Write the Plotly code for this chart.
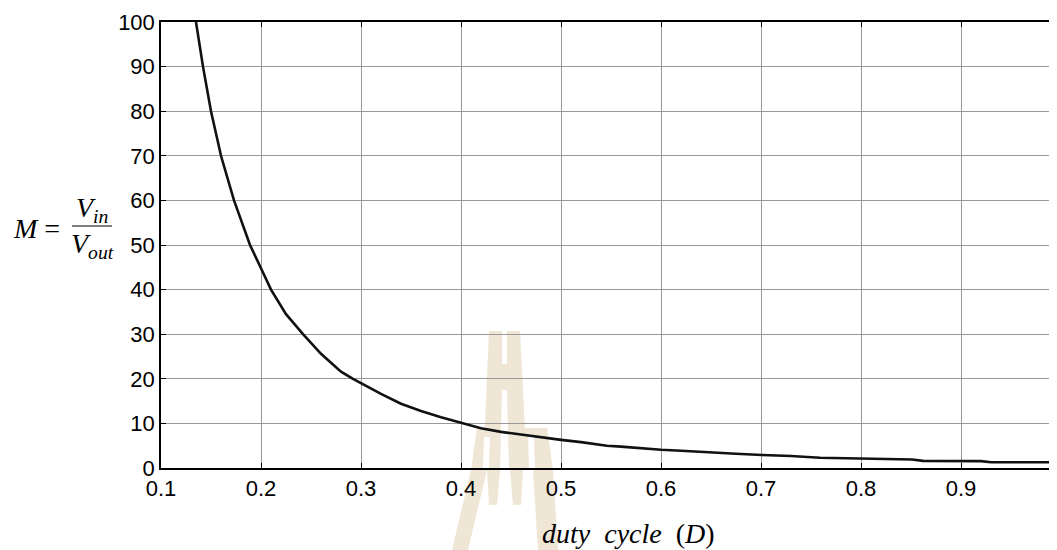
import plotly.graph_objects as go

# duty cycle D and conversion ratio M = Vin/Vout
duty = [0.135, 0.142, 0.150, 0.160, 0.173, 0.189, 0.200, 0.210, 0.225, 0.242,
        0.260, 0.280, 0.292, 0.300, 0.320, 0.340, 0.360, 0.380, 0.400, 0.420,
        0.440, 0.460, 0.480, 0.500, 0.520, 0.546, 0.560, 0.580, 0.600, 0.625,
        0.652, 0.675, 0.701, 0.730, 0.759, 0.780, 0.800, 0.830, 0.851, 0.862,
        0.900, 0.920, 0.930, 0.960, 0.996]
ratio = [100.0, 90.0, 80.0, 70.0, 60.0, 50.0, 44.8, 40.0, 34.5, 30.0,
         25.6, 21.6, 20.0, 19.0, 16.6, 14.4, 12.8, 11.4, 10.1, 8.9,
         8.1, 7.5, 6.8, 6.3, 5.8, 5.0, 4.8, 4.4, 4.1, 3.8,
         3.4, 3.2, 2.9, 2.7, 2.3, 2.2, 2.0, 1.95, 1.9, 1.6,
         1.6, 1.55, 1.3, 1.3, 1.3]

x_ticks = [0.1, 0.2, 0.3, 0.4, 0.5, 0.6, 0.7, 0.8, 0.9]
x_tick_labels = ["0.1", "0.2", "0.3", "0.4", "0.5", "0.6", "0.7", "0.8", "0.9"]
y_ticks = [0, 10, 20, 30, 40, 50, 60, 70, 80, 90, 100]
y_tick_labels = [str(v) for v in y_ticks]

# the page body has an 8px margin, so the figure is shrunk by that much
OFF = 8
W, H = 1057 - OFF, 550 - OFF
L, T, B = 161 - OFF, 22 - OFF, 82
PW, PH = W - L, H - T - B
WATERMARK = "#EFE6D5"


# helpers: page pixel -> paper coords
def px(x):
    return (x - OFF - L) / PW


def py(y):
    return (H - B - (y - OFF)) / PH


def poly(points, color):
    path = "M " + " L ".join(f"{px(x):.5f},{py(y):.5f}" for x, y in points) + " Z"
    return dict(type="path", xref="paper", yref="paper", path=path,
                fillcolor=color, line=dict(width=0), layer="below")


# faint logo watermark behind the grid
shapes = [
    poly([(489, 331), (520, 331), (527, 470), (483, 470)], WATERMARK),
    poly([(477, 428), (547, 428), (553, 470), (471, 470)], WATERMARK),
    poly([(471, 470), (487, 470), (468, 550), (452, 550)], WATERMARK),
    poly([(533, 470), (553, 470), (558, 550), (538, 550)], WATERMARK),
    poly([(487, 470), (500, 470), (497, 505), (489, 505)], WATERMARK),
    poly([(510, 470), (523, 470), (521, 505), (513, 505)], WATERMARK),
    poly([(502, 331), (507, 331), (507, 364), (502, 364)], "white"),
    poly([(502, 390), (507, 390), (509, 470), (500, 470)], "white"),
    poly([(484, 437), (490, 437), (489, 468), (483, 468)], "white"),
    poly([(528, 437), (534, 437), (535, 468), (529, 468)], "white"),
    # fraction bar of the y label
    dict(type="line", xref="paper", yref="paper", x0=px(72), x1=px(112),
         y0=py(226), y1=py(226), line=dict(color="black", width=1.2)),
]

serif = dict(family="Liberation Serif, Times New Roman, serif", size=28, color="black")
annotations = [
    dict(text="<i>M</i> =", x=px(11), y=py(228), xanchor="left", yanchor="middle"),
    dict(text="<i>V<sub>in</sub></i>", x=px(92), y=py(209), xanchor="center", yanchor="middle"),
    dict(text="<i>V<sub>out</sub></i>", x=px(92), y=py(245), xanchor="center", yanchor="middle"),
    dict(text="<i>duty</i>&nbsp;&nbsp;<i>cycle</i>&nbsp;&nbsp;(<i>D</i>)", x=px(628), y=py(533),
         xanchor="center", yanchor="middle"),
]
for a in annotations:
    a.update(xref="paper", yref="paper", showarrow=False, font=serif)

fig = go.Figure(go.Scatter(x=duty, y=ratio, mode="lines",
                           line=dict(color="#111111", width=2.6), showlegend=False))

axis_common = dict(
    showline=True, linecolor="black", linewidth=1.5, mirror="ticks",
    ticks="inside", ticklen=5, tickcolor="black", tickwidth=1.2,
    showgrid=True, gridcolor="#999999", gridwidth=1, zeroline=False,
    tickfont=dict(family="Liberation Sans, Arial, sans-serif", size=22, color="black"),
)

fig.update_layout(
    width=W, height=H,
    margin=dict(l=L, r=0, t=T, b=B, autoexpand=False),
    paper_bgcolor="white", plot_bgcolor="rgba(0,0,0,0)",
    xaxis=dict(range=[0.1, 0.996], tickmode="array", tickvals=x_ticks,
               ticktext=x_tick_labels, **axis_common),
    yaxis=dict(range=[0, 100], tickmode="array", tickvals=y_ticks,
               ticktext=y_tick_labels, **axis_common),
    shapes=shapes,
    annotations=annotations,
)

fig.write_html("out.html")
